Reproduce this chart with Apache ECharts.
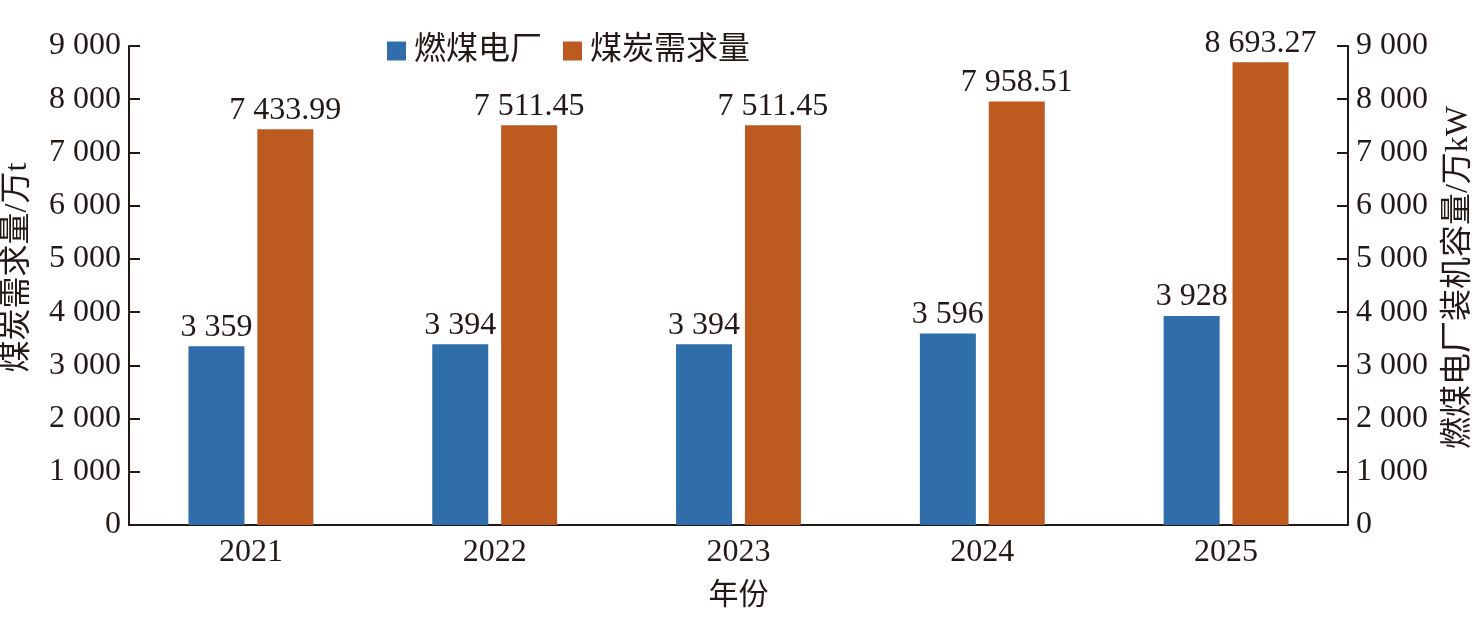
<!DOCTYPE html>
<html>
<head>
<meta charset="utf-8">
<script src="https://cdn.jsdelivr.net/npm/echarts@6/dist/echarts.min.js"></script>
<style>
html,body{margin:0;padding:0;background:#fff;}
#c{width:1484px;height:640px;}
</style>
</head>
<body>
<div id="c"></div>
<script>
const categories = ['2021', '2022', '2023', '2024', '2025'];
const plantCapacity = [3359, 3394, 3394, 3596, 3928];
const coalDemand = [7433.99, 7511.45, 7511.45, 7958.51, 8693.27];
const seriesNames = ['燃煤电厂', '煤炭需求量'];
const leftAxisName = '煤炭需求量/万t';
const rightAxisName = '燃煤电厂装机容量/万kW';
const xAxisName = '年份';

const FONT = "'Liberation Serif', 'Noto Sans CJK SC', serif";
const INK = '#231815';

function groupSpace(v, dec) {
  const s = dec ? v.toFixed(dec) : String(Math.round(v));
  const parts = s.split('.');
  parts[0] = parts[0].replace(/\B(?=(\d{3})+(?!\d))/g, ' ');
  return parts.join('.');
}

const yAxisCommon = {
  type: 'value', min: 0, max: 9000, interval: 1000,
  nameLocation: 'middle', nameGap: 95, nameRotate: 90,
  axisLine: {show: true, lineStyle: {color: INK, width: 2}},
  axisTick: {show: true, inside: true, length: 11, lineStyle: {color: INK, width: 2}},
  axisLabel: {fontFamily: FONT, fontSize: 32, color: INK, margin: 8,
    formatter: v => groupSpace(v, 0)},
  splitLine: {show: false}
};

const chart = echarts.init(document.getElementById('c'));
chart.setOption({
  animation: false,
  backgroundColor: '#fff',
  textStyle: {fontFamily: FONT},
  grid: {left: 129, right: 136, top: 46, bottom: 115, containLabel: false, outerBoundsMode: 'none'},
  legend: {
    left: 382, top: 30, itemWidth: 19, itemHeight: 19, itemGap: 21,
    icon: 'rect',
    textStyle: {fontFamily: FONT, fontSize: 32, color: INK, padding: [0, 0, 0, 3]},
    data: seriesNames
  },
  xAxis: {
    type: 'category', data: categories,
    name: xAxisName, nameLocation: 'middle', nameGap: 56,
    nameTextStyle: {fontFamily: FONT, fontSize: 30, color: INK},
    axisLine: {lineStyle: {color: INK, width: 2}},
    axisTick: {show: false},
    axisLabel: {fontFamily: FONT, fontSize: 32, color: INK, margin: 12}
  },
  yAxis: [
    Object.assign({}, yAxisCommon, {position: 'left', name: leftAxisName,
      nameTextStyle: {fontFamily: FONT, fontSize: 32, color: INK, padding: [0, 0, 0, 36]}}),
    Object.assign({}, yAxisCommon, {position: 'right', name: rightAxisName,
      nameTextStyle: {fontFamily: FONT, fontSize: 32, color: INK, padding: [0, 0, 0, 16]}})
  ],
  series: [
    {
      name: seriesNames[0], type: 'bar', yAxisIndex: 1, data: plantCapacity,
      barWidth: 56, barGap: '23%',
      itemStyle: {color: '#2f6eaa'},
      label: {show: true, position: 'top', distance: 3, fontFamily: FONT, fontSize: 32, color: INK,
        formatter: p => groupSpace(p.value, 0)}
    },
    {
      name: seriesNames[1], type: 'bar', yAxisIndex: 0, data: coalDemand,
      barWidth: 56, barGap: '23%',
      itemStyle: {color: '#bc5a20'},
      label: {show: true, position: 'top', distance: 3, fontFamily: FONT, fontSize: 32, color: INK,
        formatter: p => groupSpace(p.value, 2)}
    }
  ]
});
</script>
</body>
</html>
